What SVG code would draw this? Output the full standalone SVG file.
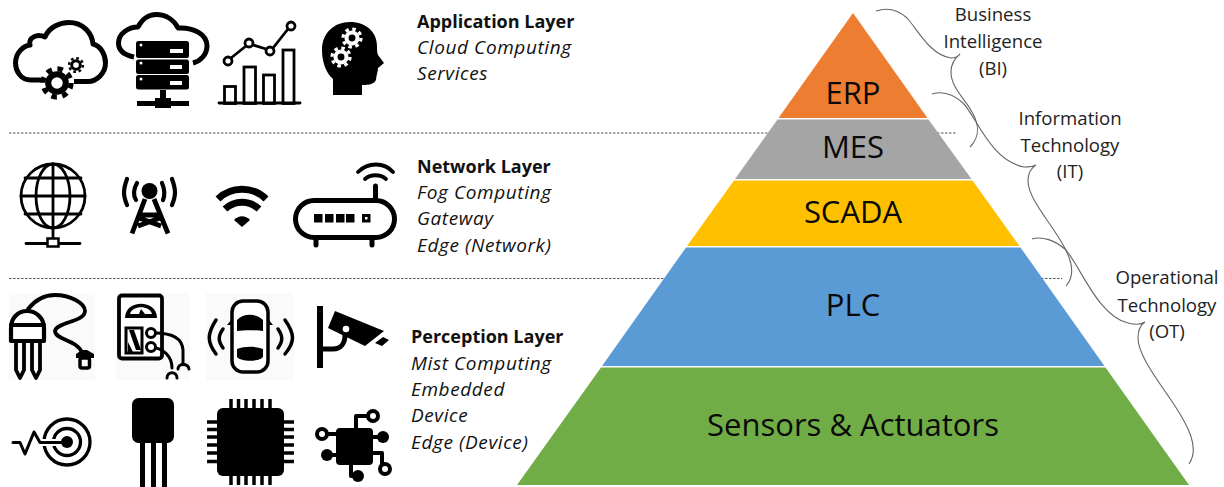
<svg xmlns="http://www.w3.org/2000/svg" width="1224" height="487" viewBox="0 0 1224 487">
<style>
text{font-family:"Open Sans","Noto Sans","DejaVu Sans",sans-serif;fill:#111}
.h{font-size:18px;font-weight:700}
.i{font-size:19px;font-style:italic;letter-spacing:.6px}
.r{font-size:18.600px;text-anchor:middle;fill:#222}
.p{font-size:31px;text-anchor:middle;fill:#0a0a0a}
.dash{stroke:#555;stroke-width:1;stroke-dasharray:2.5 1.5;fill:none}
.brace{fill:none;stroke:#666;stroke-width:1.1}
.s{fill:none;stroke:#000;stroke-linecap:round;stroke-linejoin:round}
.t{fill:none;stroke:#000;stroke-linecap:butt;stroke-linejoin:round}
.w{fill:#fff}.k{fill:#000}
.hatch{fill:#fafafa}
</style>
<defs>
<g id="gear"><circle r="7.4" class="k"/><circle r="8.8" fill="none" stroke="#000" stroke-width="3.2" stroke-dasharray="3.45 3.46"/><circle r="3.6" class="w"/></g>
<g id="gearw"><circle r="7.4" class="w"/><circle r="8.8" fill="none" stroke="#fff" stroke-width="3.2" stroke-dasharray="3.45 3.46"/><circle r="3.4" class="k"/></g>
</defs>
<rect width="1224" height="487" fill="#fff"/>
<g id="separators">
<line class="dash" x1="9" y1="133" x2="957" y2="133"/>
<line class="dash" x1="9" y1="278.500" x2="1062" y2="278.500"/>
</g>
<g id="icon-cloud-gears">
<path class="t" stroke-width="5" d="M41,80H31C20,80 15.500,70 15.500,63C15.500,53 23,46 30,45C28,38 37,33 45,37C49,27 60,22.500 69,22.500C83,22.500 92,33 93,44C101,46 105.500,55 105.500,63C105.500,73 97,81.500 88,81.500H74"/>
<use href="#gear" transform="translate(57 83) scale(1.6)"/>
<use href="#gear" transform="translate(76 65) scale(.78)"/>
</g>
<g id="icon-cloud-server">
<path class="t" stroke-width="5" d="M134,57C124,55 118.500,50 118.500,43C118.500,34 128,27 138,27C142,19 149,14.500 156,14.500C166,14.500 174,20 178,28C193,27 207,34 207,46C207,54 201,61 193,63"/>
<g class="k"><rect x="136" y="41" width="53" height="17" rx="2.500"/><rect x="136" y="59.500" width="53" height="14.500" rx="2.500"/><rect x="136" y="75" width="53" height="14.500" rx="2.500"/>
<rect x="160" y="90" width="6" height="12"/><rect x="137" y="101" width="52" height="5"/><rect x="155" y="98" width="16" height="10"/></g>
<g class="w"><circle cx="141" cy="45" r="1.500"/><circle cx="141" cy="63" r="1.500"/><circle cx="141" cy="79" r="1.500"/><rect x="170" y="49" width="13" height="4"/><rect x="170" y="65" width="12" height="4"/><rect x="170" y="81" width="12" height="4"/></g>
</g>
<g id="icon-chart">
<g fill="#fff" stroke="#000" stroke-width="2.800"><rect x="224.500" y="86.500" width="11" height="17"/><rect x="244" y="67" width="11.500" height="36.500"/><rect x="263.500" y="75" width="11" height="28.500"/><rect x="283" y="50" width="11" height="53.500"/></g>
<path class="s" stroke-width="2.800" d="M219,103H300M231,58L246,46M253,45L266,49M273,48L288,29"/>
<g fill="#fff" stroke="#000" stroke-width="2.800"><circle cx="228" cy="61" r="4"/><circle cx="249" cy="43" r="4"/><circle cx="270" cy="51" r="4"/><circle cx="291" cy="26" r="4"/></g>
</g>
<g id="icon-head">
<path class="k" d="M333,95V79C326,73 322,62 322,50C322,33 334,22 350,22C366,22 377,32 377,46C377,50 377,53 378,55L384,63L378,68C378,72 376,76 376,80C374,84 370,85 362,85V95Z"/>
<use href="#gearw" transform="translate(352 38) scale(1.02)"/>
<use href="#gearw" transform="translate(341 57) scale(1.02)"/>
</g>
<g id="icon-globe">
<g class="s" stroke-width="2.800"><circle cx="53" cy="196" r="32"/><ellipse cx="53" cy="196" rx="17" ry="32"/><path d="M53,164V238M25,178H81M21,196H85M25,214H81M26,243.500H48M58,243.500H80"/></g>
<rect x="47.500" y="238.500" width="11" height="8" fill="#fff" stroke="#000" stroke-width="2.500"/>
</g>
<g id="icon-tower">
<circle cx="149.500" cy="191" r="8" class="k"/>
<g class="s" stroke-width="4.200"><path d="M127,179C123,190 123,195 127,205"/><path d="M137,183C133,190 133,195 136,200"/><path d="M172,179C176,190 176,195 172,205"/><path d="M162,183C165,190 165,195 163,200"/></g>
<g class="t" stroke-width="4.800"><path d="M145,199L132,233.500M154,199L168,233.500M141,215H158M138,226L160,218M161,226L139,218"/></g>
</g>
<g id="icon-wifi">
<g fill="none" stroke="#000" stroke-width="7"><path d="M218,199C231,186 253,186 266,199"/><path d="M225,209C235,200 249,200 259,209"/></g>
<path class="k" d="M234,220C239,215 245,215 250,220L242,227Z"/>
</g>
<g id="icon-router">
<rect x="295.500" y="200.500" width="99" height="37" rx="18.500" fill="#fff" stroke="#000" stroke-width="5"/>
<g class="s" stroke-width="5"><path d="M316,240V245M372,240V245M375.500,186V198"/></g>
<g class="s" stroke-width="3.800"><path d="M358,172C368,162 384,162 393,172"/><path d="M365,179C371,174 380,174 386,179"/></g>
<g class="k"><rect x="314" y="214" width="8.500" height="8.500"/><rect x="325" y="214" width="8.500" height="8.500"/><rect x="336" y="214" width="8.500" height="8.500"/><rect x="346" y="214" width="8.500" height="8.500"/><rect x="362" y="214" width="8.500" height="8.500"/></g>
<rect x="365" y="217" width="2.500" height="2.500" class="w"/>
</g>
<g id="icon-probe">
<rect class="hatch" x="9" y="293" width="86" height="87"/>
<path class="s" stroke-width="3.800" d="M28,309C36,299 45,295 55,295C70,295 85,303 85,311C85,322 56,322 55,331C55,340 78,340 82,353"/>
<path fill="#fff" stroke="#000" stroke-width="4.200" stroke-linejoin="round" d="M11,341V328C11,318 18,311 27,311C36,311 44,318 44,328V341Z"/>
<path class="s" stroke-width="3.800" d="M11,325H44M16,342V370L20,378L24,370V342M32,342V370L36,378L40,370V342"/>
<path fill="#000" d="M76,358V354L82,350H87L94,354V358Z"/>
<rect x="80" y="358" width="9.500" height="10" rx="2" fill="#fff" stroke="#000" stroke-width="3.500"/>
</g>
<g id="icon-multimeter">
<rect class="hatch" x="116" y="293" width="74" height="87"/>
<rect x="119" y="295.500" width="43" height="63" rx="3" fill="#fff" stroke="#000" stroke-width="3.800"/>
<path class="k" d="M125,318C125,299 157,299 157,318Z"/>
<path class="w" d="M130,314C132,305 150,305 152,314H145L141,309L139,314Z"/>
<rect x="126" y="328" width="16" height="25" fill="#fff" stroke="#000" stroke-width="3"/>
<path class="k" d="M129,330H134L141,350H136ZM128,342L133,352H128Z"/>
<g class="s" stroke-width="3"><path d="M155,333C165,333 182,335 183,350V364M155,348C163,349 172,356 172,368"/>
<path d="M178,369C178,363 188,363 189,369"/><path d="M167,378C167,371 177,371 177,378"/></g>
<g fill="#fff" stroke="#000" stroke-width="3"><circle cx="151" cy="333" r="4.500"/><circle cx="151" cy="347" r="4.500"/></g>
</g>
<g id="icon-car">
<rect class="hatch" x="206" y="293" width="88" height="87"/>
<rect x="232" y="301" width="36" height="71" rx="11" fill="#fff" stroke="#000" stroke-width="3.500"/>
<g class="k"><path d="M237,320C243,313 257,313 263,320V331C257,330 243,330 237,331Z"/><path d="M237,349C245,346 255,346 263,349V357C259,362 241,362 237,357Z"/><path d="M227,325L232,319V325ZM273,325L268,319V325Z"/></g>
<g class="s" stroke-width="3.500"><path d="M216,320C207,334 207,342 216,354"/><path d="M223,329C218,336 218,341 223,348"/><path d="M285,320C295,334 295,342 285,354"/><path d="M278,329C283,336 283,341 278,348"/></g>
</g>
<g id="icon-camera">
<g class="k"><rect x="317" y="306" width="6" height="62"/><path d="M335,311L384,331L365,346L328,328Z"/><path d="M375,343L383,337L389,340L382,346Z"/></g>
<path class="t" stroke-width="5" d="M322,349H333C341,349 345,343 345,335"/>
<circle cx="346" cy="329" r="3.300" class="w"/>
</g>
<g id="icon-target">
<g fill="none" stroke="#000" stroke-width="3.300"><circle cx="67" cy="442" r="23"/><circle cx="67" cy="442" r="13.500"/></g>
<path fill="none" stroke="#fff" stroke-width="7" d="M38,442.500H60"/>
<circle cx="67" cy="442" r="6" class="k"/>
<path class="s" stroke-width="3" d="M13,442.500H20L25,454L34,432L40,442.500H65"/>
</g>
<g id="icon-transistor">
<rect x="132" y="398" width="42" height="45" rx="6.500" class="k"/>
<g class="k"><rect x="140" y="440" width="5" height="47"/><rect x="151" y="440" width="5" height="47"/><rect x="162" y="440" width="5" height="47"/></g>
</g>
<g id="icon-chip">
<rect x="217" y="408" width="67" height="68" rx="6" class="k"/>
<path stroke="#000" stroke-width="3.500" d="M231,399V485M238.500,399V485M246,399V485M254,399V485M262,399V485M270,399V485M207,422H294M207,429.500H294M207,437H294M207,445H294M207,453H294M207,461.500H294"/>
</g>
<g id="icon-circuit">
<g class="t" stroke-width="4"><path d="M327,434H338M356,428V416H368M373,437H379M332,455H338M373,453H382V465M351,465V476H354"/></g>
<rect x="336" y="428" width="37" height="37" rx="4" class="k"/>
<g fill="#fff" stroke="#000" stroke-width="4"><circle cx="373" cy="416" r="5"/><circle cx="322" cy="434" r="5"/><circle cx="385" cy="469" r="5"/></g>
<g class="k"><circle cx="383" cy="437" r="6"/><circle cx="327" cy="455" r="6"/><circle cx="358" cy="476" r="6"/></g>
</g>
<g id="layer-application"><text class="h" x="417" y="27.500">Application Layer</text><text class="i" x="417" y="54">Cloud Computing</text><text class="i" x="417" y="80">Services</text></g>
<g id="layer-network"><text class="h" x="417" y="172.500">Network Layer</text><text class="i" x="417" y="199">Fog Computing</text><text class="i" x="417" y="225">Gateway</text><text class="i" x="417" y="252">Edge (Network)</text></g>
<g id="layer-perception"><text class="h" x="411" y="343">Perception Layer</text><text class="i" x="411" y="370">Mist Computing</text><text class="i" x="411" y="396">Embedded</text><text class="i" x="411" y="422">Device</text><text class="i" x="411" y="449">Edge (Device)</text></g>
<g id="erp"><path fill="#ed7d31" d="M853,13L778.500,118H927.500Z"/><text class="p" x="853" y="104">ERP</text></g>
<g id="mes"><path fill="#a5a5a5" d="M777.500,119.500H928.500L971.500,179H735Z"/><text class="p" x="853" y="158">MES</text></g>
<g id="scada"><path fill="#ffc000" d="M734,180.500H972.500L1019.500,246H687Z"/><text class="p" x="853" y="223">SCADA</text></g>
<g id="plc"><path fill="#5b9bd5" d="M686,247.500H1020.500L1104.500,366H602Z"/><text class="p" x="853" y="316">PLC</text></g>
<g id="sensors"><path fill="#70ad47" d="M601,367.500H1105.500L1189,485H517Z"/><text class="p" x="853" y="436">Sensors &amp; Actuators</text></g>
<g id="connectors">
<path class="brace" d="M876,11C885,8 896,8 907,18C918,30 930,55 951,58C955,58 958,57 960,54C955,58 951,63 951,72C951,88 966,100 972,112C979,124 980,137 970,147"/>
<path class="brace" d="M932,94C942,91 953,94 963,103C976,116 990,160 1024,167C1030,167 1033,167 1036,165C1031,168 1028,174 1028,181C1028,198 1050,222 1062,243C1071,258 1076,275 1066,286"/>
<path class="brace" d="M1032,239C1042,236 1055,240 1066,250C1080,266 1098,316 1128,323C1136,325 1141,325 1145,322C1140,325 1138,331 1138,338C1138,356 1160,383 1175,406C1188,426 1200,448 1189,464"/>
</g>
<g id="label-bi"><text class="r" x="993" y="21">Business</text><text class="r" x="993" y="48">Intelligence</text><text class="r" x="993" y="75">(BI)</text></g>
<g id="label-it"><text class="r" x="1070" y="125">Information</text><text class="r" x="1070" y="152">Technology</text><text class="r" x="1070" y="178">(IT)</text></g>
<g id="label-ot"><text class="r" x="1167" y="284">Operational</text><text class="r" x="1167" y="312">Technology</text><text class="r" x="1167" y="338">(OT)</text></g>
</svg>
